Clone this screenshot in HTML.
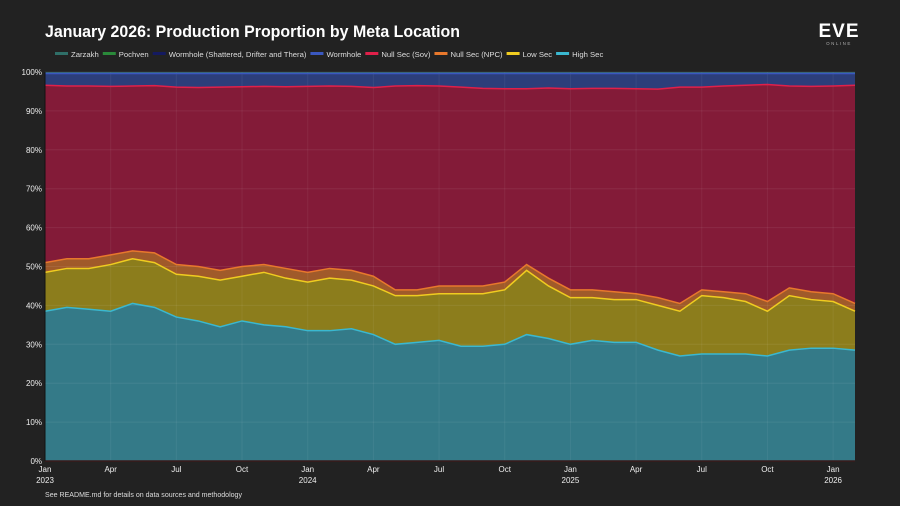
<!DOCTYPE html>
<html><head><meta charset="utf-8">
<style>
body{margin:0;background:#222;width:900px;height:506px;overflow:hidden;font-family:"Liberation Sans Narrow","Liberation Sans",sans-serif;}
svg{display:block}
</style></head>
<body>
<svg id="chart" width="900" height="506">
<rect width="900" height="506" fill="#222"/>
<text x="45" y="37" fill="#fff" font-size="17" font-weight="bold" textLength="415" lengthAdjust="spacingAndGlyphs">January 2026: Production Proportion by Meta Location</text>
<g>
<text x="839" y="37" fill="#fff" font-size="19" font-weight="bold" text-anchor="middle" letter-spacing="1">EVE</text>
<text x="839" y="45" fill="#aaa" font-size="4.5" text-anchor="middle" letter-spacing="1.5">ONLINE</text>
</g>
<g id="legend"></g>
<g id="plot"></g>
<text x="45" y="497" fill="#ddd" font-size="7.5" textLength="197" lengthAdjust="spacingAndGlyphs">See README.md for details on data sources and methodology</text>
</svg>
<script>
// months since Jan 2023 (monthly samples)
const months = [0,1,2,3,4,5,6,7,8,9,10,11,12,13,14,15,16,17,18,19,20,21,22,23,24,25,26,27,28,29,30,31,32,33,34,35,36,37];
// cumulative top boundaries (%)
const highSecTop = [38.5,39.5,39,38.5,40.5,39.5,37,36,34.5,36,35,34.5,33.5,33.5,34,32.5,30,30.5,31,29.5,29.5,30,32.5,31.5,30,31,30.5,30.5,28.5,27,27.5,27.5,27.5,27,28.5,29,29,28.5];
const lowSecTop = [48.5,49.5,49.5,50.5,52,51,48,47.5,46.5,47.5,48.5,47,46,47,46.5,45,42.5,42.5,43,43,43,44,49,45,42,42,41.5,41.5,40,38.5,42.5,42,41,38.5,42.5,41.5,41,38.5];
const npcTop = [51,52,52,53,54,53.5,50.5,50,49,50,50.5,49.5,48.5,49.5,49,47.5,44,44,45,45,45,46,50.5,47,44,44,43.5,43,42,40.5,44,43.5,43,41,44.5,43.5,43,40.5];
const sovTop = [96.6,96.4,96.4,96.3,96.4,96.5,96.1,96,96.1,96.2,96.3,96.2,96.3,96.4,96.3,96,96.4,96.5,96.4,96.1,95.8,95.7,95.7,95.9,95.7,95.8,95.8,95.7,95.6,96.1,96.1,96.4,96.6,96.8,96.4,96.3,96.4,96.6];
const wormholeTop = [99.6,99.6,99.6,99.6,99.6,99.6,99.6,99.6,99.6,99.6,99.6,99.6,99.6,99.6,99.6,99.6,99.6,99.6,99.6,99.6,99.6,99.6,99.6,99.6,99.6,99.6,99.6,99.6,99.6,99.6,99.6,99.6,99.6,99.6,99.6,99.6,99.6,99.6];
const pochvenTop = [99.8,99.8,99.8,99.8,99.8,99.8,99.8,99.8,99.8,99.8,99.8,99.8,99.8,99.8,99.8,99.8,99.8,99.8,99.8,99.8,99.8,99.8,99.8,99.8,99.8,99.8,99.8,99.8,99.8,99.8,99.8,99.8,99.8,99.8,99.8,99.8,99.8,99.8];
const zarzakhTop = [100,100,100,100,100,100,100,100,100,100,100,100,100,100,100,100,100,100,100,100,100,100,100,100,100,100,100,100,100,100,100,100,100,100,100,100,100,100];
const yTicks = [0,10,20,30,40,50,60,70,80,90,100];
const xTickMonths = [0,3,6,9,12,15,18,21,24,27,30,33,36];
const xTickLabels = ["Jan","Apr","Jul","Oct","Jan","Apr","Jul","Oct","Jan","Apr","Jul","Oct","Jan"];
const yearLabels = ["2023","2024","2025","2026"];
const legendNames = ["Zarzakh","Pochven","Wormhole (Shattered, Drifter and Thera)","Wormhole","Null Sec (Sov)","Null Sec (NPC)","Low Sec","High Sec"];

const NS="http://www.w3.org/2000/svg";
const X0=45,X1=855,Y0=461,Y1=72;
const xs=m=>X0+m/37*(X1-X0);
const ys=v=>Y0-v/100*(Y0-Y1);
const plot=document.getElementById('plot');
function mk(t,a,p){const e=document.createElementNS(NS,t);for(const k in a)e.setAttribute(k,a[k]);(p||plot).appendChild(e);return e;}

const zeros=months.map(()=>0);
const layers=[
 {name:"high-sec",top:highSecTop,bot:zeros,fill:"#347a88",line:"#3ab8d0"},
 {name:"low-sec",top:lowSecTop,bot:highSecTop,fill:"#8c7d1c",line:"#f0cc20"},
 {name:"null-sec-npc",top:npcTop,bot:lowSecTop,fill:"#a05a2a",line:"#e8782c"},
 {name:"null-sec-sov",top:sovTop,bot:npcTop,fill:"#831b38",line:"#e0204a"},
 {name:"wormhole",top:wormholeTop,bot:sovTop,fill:"#2c3e7a",line:"#3a58c0"},
 {name:"wormhole-other",top:pochvenTop,bot:wormholeTop,fill:"#1a1f5a",line:"#1a1f5a"},
 {name:"pochven",top:pochvenTop,bot:pochvenTop,fill:"#2a8a3a",line:"#2a8a3a"},
 {name:"zarzakh",top:zarzakhTop,bot:pochvenTop,fill:"#2f6f68",line:"#3a8a80"}
];
layers.forEach(L=>{
 let d="M"+months.map((m,i)=>xs(m)+","+ys(L.top[i])).join("L");
 for(let i=months.length-1;i>=0;i--)d+="L"+xs(months[i])+","+ys(L.bot[i]);
 const a=mk('path',{d:d+"Z",fill:L.fill});
 
 
});
yTicks.forEach(v=>{
 const g=mk('line',{x1:X0,x2:X1,y1:ys(v),y2:ys(v),stroke:"rgba(255,255,255,0.07)","stroke-width":1});
 
 
 const t=mk('text',{x:X0-3,y:ys(v)+3,fill:"#eee","font-size":"8","text-anchor":"end"});
 t.textContent=v+"%";
 
 
});
xTickMonths.forEach((m,i)=>{
 const g=mk('line',{x1:xs(m),x2:xs(m),y1:Y1,y2:Y0,stroke:"rgba(255,255,255,0.06)","stroke-width":1});
 
 
 const t=mk('text',{x:xs(m),y:472,fill:"#eee","font-size":"8","text-anchor":"middle"});
 t.textContent=xTickLabels[i];
 
 
});
yearLabels.forEach((y,i)=>{
 const t=mk('text',{x:xs(i*12),y:483,fill:"#eee","font-size":"8","text-anchor":"middle"});
 t.textContent=y;
 
 
});
layers.slice(0,5).forEach(L=>{
 const p=mk('path',{d:"M"+months.map((m,i)=>xs(m)+","+ys(L.top[i])).join("L"),fill:"none",stroke:L.line,"stroke-width":1.5});
 
 
});
const ax=mk('line',{x1:X0,x2:X1,y1:Y0,y2:Y0,stroke:"#3a1a1a","stroke-width":1.5});


const ay=mk('line',{x1:X0,x2:X0,y1:Y1,y2:Y0,stroke:"#111","stroke-width":1});


const legCols=["#2f6f68","#2a8a3a","#141a60","#3a58c0","#e0204a","#e8782c","#f0cc20","#3ab8d0"];
const leg=document.getElementById('legend');
let lx=55;
legendNames.forEach((n,i)=>{
 const g=mk('g',{},leg);
 
 
 mk('rect',{x:lx,y:52,width:13,height:3,fill:legCols[i]},g);
 const t=mk('text',{x:lx+16,y:57,fill:"#ddd","font-size":"7.7"},g);
 t.textContent=n;
 lx+=16+t.getComputedTextLength()+4;
});
</script>
</body></html>
